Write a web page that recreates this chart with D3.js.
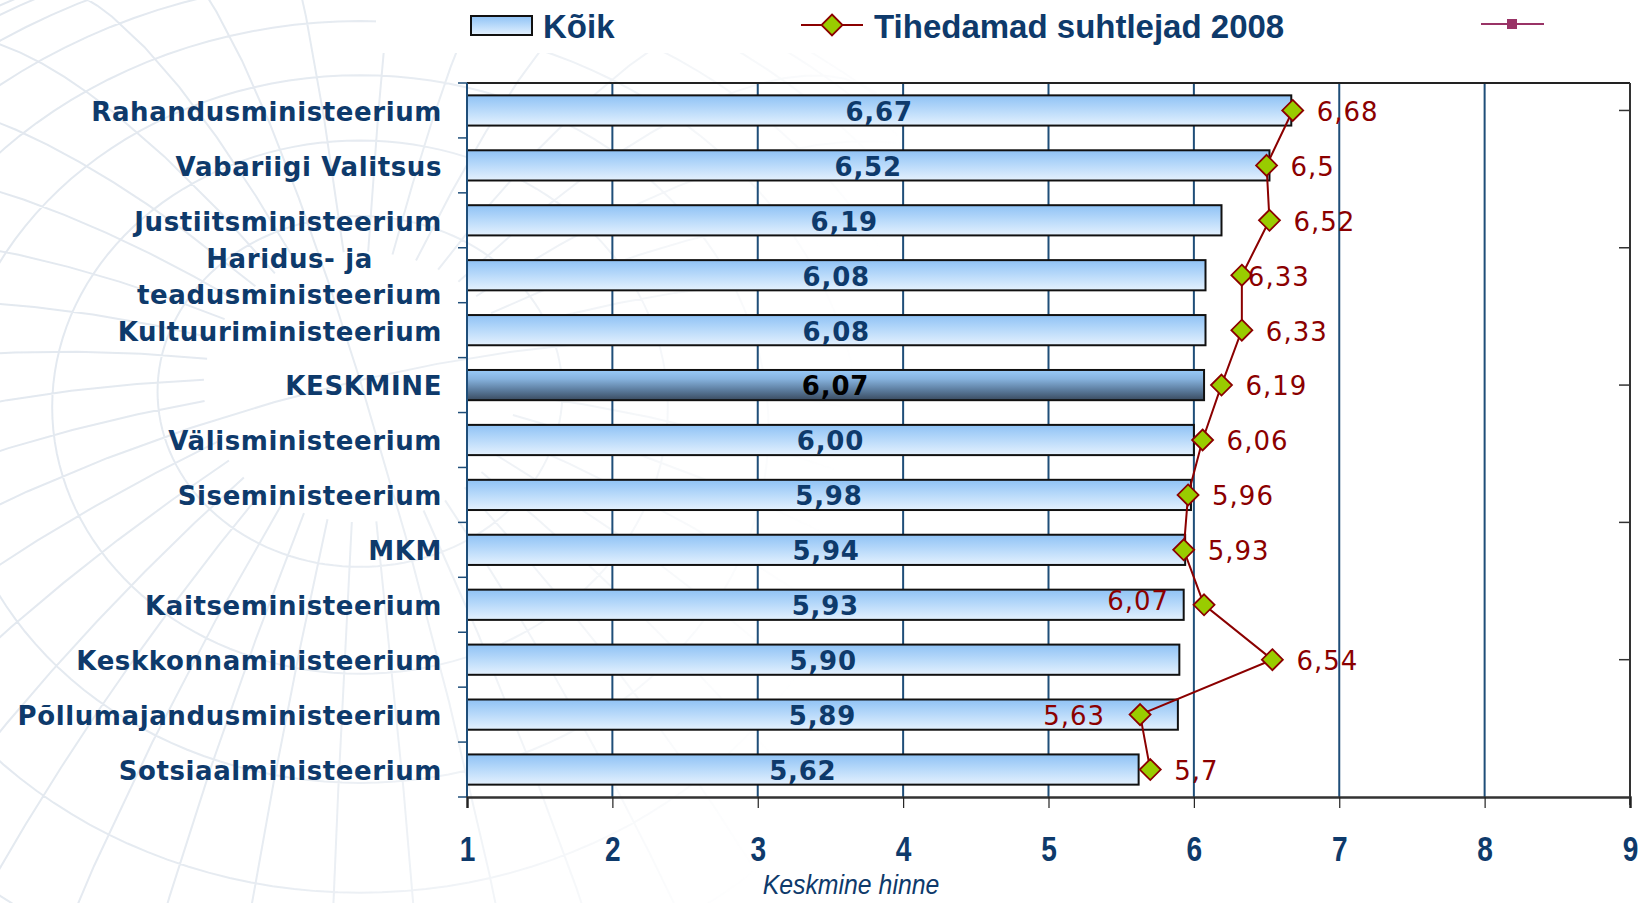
<!DOCTYPE html>
<html><head><meta charset="utf-8">
<script src="https://cdn.jsdelivr.net/npm/d3@7"></script>
<style>
html,body{margin:0;padding:0;background:#fff;}
svg{display:block;}
</style></head>
<body>
<svg id="chart" width="1641" height="903"></svg>
<script>
// ---- data ----
const categories = [
  "Rahandusministeerium","Vabariigi Valitsus","Justiitsministeerium",
  "Haridus- ja teadusministeerium","Kultuuriministeerium","KESKMINE",
  "Välisministeerium","Siseministeerium","MKM","Kaitseministeerium",
  "Keskkonnaministeerium","Põllumajandusministeerium","Sotsiaalministeerium"
];
const koik = [6.67, 6.52, 6.19, 6.08, 6.08, 6.07, 6.00, 5.98, 5.94, 5.93, 5.90, 5.89, 5.62];
const tihedamad = [6.68, 6.5, 6.52, 6.33, 6.33, 6.19, 6.06, 5.96, 5.93, 6.07, 6.54, 5.63, 5.7];
const lineLabelSide = ["right","right","right","tight","right","right","right","right","right","left","right","left","right"];
const xTicks = [1,2,3,4,5,6,7,8,9];
const secondaryTicks = [1,2,3,4,5];
const seriesNames = ["Kõik","Tihedamad suhtlejad 2008",""];
const highlight = "KESKMINE";
const xTitle = "Keskmine hinne";

// ---- layout ----
const W = 1641, H = 903;
const M = {left: 467, right: 1630, top: 83, bottom: 797};
const navy = "#0e3a6b", grid = "#1f4e79", red = "#8b0000", diamondFill = "#99cc00";

const svg = d3.select("#chart");
const defs = svg.append("defs");

function grad(id, stops){
  const g = defs.append("linearGradient").attr("id", id).attr("x1",0).attr("y1",0).attr("x2",0).attr("y2",1);
  stops.forEach(s => g.append("stop").attr("offset", s[0]).attr("stop-color", s[1]));
}
grad("barGrad", [[0,"#8fc2f5"],[0.5,"#b9dafa"],[1,"#e4f1fe"]]);
grad("hiGrad", [[0,"#98caf8"],[0.3,"#86b2dd"],[0.7,"#587798"],[1,"#3a4b60"]]);

// background globe pattern
const fade = defs.append("linearGradient").attr("id","fade").attr("x1",0).attr("y1",0).attr("x2",1).attr("y2",0.2);
fade.append("stop").attr("offset",0).attr("stop-color","#fff");
fade.append("stop").attr("offset",0.45).attr("stop-color","#fff").attr("stop-opacity",0.85);
fade.append("stop").attr("offset",1).attr("stop-color","#fff").attr("stop-opacity",0);
defs.append("mask").attr("id","bgMask").attr("maskContentUnits","userSpaceOnUse")
  .append("rect").attr("x",0).attr("y",0).attr("width",900).attr("height",H).attr("fill","url(#fade)");
const proj = d3.geoOrthographic().scale(900).translate([360, 830]).rotate([15, -60, 0]).clipAngle(90);
const gpath = d3.geoPath(proj);
svg.append("g").attr("mask","url(#bgMask)")
  .append("path").datum(d3.geoGraticule().stepMajor([90,360]).stepMinor([9,7]).extentMinor([[-180,-80],[180,80]])())
  .attr("d", gpath).attr("fill","none").attr("stroke","#e2e8ef").attr("stroke-width",2);
// white legend area
svg.append("rect").attr("x",376).attr("y",0).attr("width",W-376).attr("height",53).attr("fill","#fff");

// ---- scales ----
const x = d3.scaleLinear().domain([1,9]).range([M.left, M.right]);
const y = d3.scaleBand().domain(categories).range([M.top, M.bottom]).paddingInner(0.45).paddingOuter(0.225);
const y2 = d3.scaleLinear().domain([0,5.2]).range([M.bottom, M.top]);
const fmt2 = v => d3.format(".2f")(v).replace(".", ",");
const fmtN = v => String(v).replace(".", ",");

// gridlines
svg.append("g").selectAll("line").data(xTicks.slice(1,-1)).join("line")
  .attr("x1", d => x(d)).attr("x2", d => x(d)).attr("y1", M.top).attr("y2", M.bottom)
  .attr("stroke", grid).attr("stroke-width", 2);

// frame top/right
svg.append("line").attr("x1",M.left).attr("x2",M.right).attr("y1",M.top).attr("y2",M.top).attr("stroke","#222").attr("stroke-width",2);
svg.append("line").attr("x1",M.right).attr("x2",M.right).attr("y1",M.top).attr("y2",M.bottom+8).attr("stroke","#333").attr("stroke-width",2);

// bars
svg.append("g").selectAll("rect").data(categories).join("rect")
  .attr("x", x(1)).attr("y", d => y(d))
  .attr("width", (d,i) => x(koik[i]) - x(1)).attr("height", y.bandwidth())
  .attr("fill", d => d === highlight ? "url(#hiGrad)" : "url(#barGrad)")
  .attr("stroke", "#111").attr("stroke-width", 2);

// bar labels
svg.append("g").selectAll("text").data(categories).join("text")
  .attr("x", (d,i) => (x(1) + x(koik[i]))/2).attr("y", d => y(d) + y.bandwidth()/2 + 1)
  .attr("dy","0.36em").attr("text-anchor","middle")
  .attr("font-family","DejaVu Sans, Verdana, sans-serif").attr("font-weight","bold").attr("font-size",26)
  .attr("letter-spacing",0.8)
  .attr("fill", d => d === highlight ? "#000" : navy)
  .text((d,i) => fmt2(koik[i]));

// secondary series line
const pts = categories.map((c,i) => [x(tihedamad[i]), y(c) + y.bandwidth()/2]);
svg.append("path").attr("d", d3.line()(pts)).attr("fill","none").attr("stroke", red).attr("stroke-width",2);
const diamond = s => `M0,${-s}L${s},0L0,${s}L${-s},0Z`;
svg.append("g").selectAll("path").data(pts).join("path")
  .attr("transform", d => `translate(${d[0]},${d[1]})`).attr("d", diamond(10.5))
  .attr("fill", diamondFill).attr("stroke", red).attr("stroke-width",1.8);
svg.append("g").selectAll("text").data(pts).join("text")
  .attr("x", (d,i) => lineLabelSide[i] === "left" ? d[0] - 35 : d[0] + (lineLabelSide[i] === "tight" ? 6 : 24))
  .attr("y", (d,i) => d[1] + (lineLabelSide[i] === "left" && i < 10 ? -4 : 1))
  .attr("dy","0.36em").attr("text-anchor", (d,i) => lineLabelSide[i] === "left" ? "end" : "start")
  .attr("font-family","DejaVu Sans, Verdana, sans-serif").attr("font-size",26).attr("letter-spacing",1)
  .attr("fill", red)
  .text((d,i) => fmtN(tihedamad[i]));

// left axis
const ly = svg.append("g");
ly.append("line").attr("x1",M.left).attr("x2",M.left).attr("y1",M.top).attr("y2",M.bottom).attr("stroke",grid).attr("stroke-width",2);
const boundaries = d3.range(categories.length + 1).map(i => M.top + i * y.step());
ly.selectAll(".tk").data(boundaries).join("line").attr("class","tk")
  .attr("x1",M.left-9).attr("x2",M.left).attr("y1",d=>d).attr("y2",d=>d).attr("stroke",grid).attr("stroke-width",1.5);

// category labels with wrapping
const catG = svg.append("g").attr("font-family","DejaVu Sans, Verdana, sans-serif").attr("font-weight","bold")
  .attr("font-size",26).attr("fill",navy).attr("letter-spacing",0.6);
const labelRight = 442, maxW = 365;
categories.forEach(c => {
  const cy = y(c) + y.bandwidth()/2 + 1;
  const t = catG.append("text").attr("text-anchor","end");
  const words = c.split(" ");
  let lines = [], cur = [];
  words.forEach(w => {
    t.text([...cur, w].join(" "));
    if (cur.length && t.node().getComputedTextLength() > maxW) { lines.push(cur.join(" ")); cur = [w]; }
    else cur.push(w);
  });
  lines.push(cur.join(" "));
  t.text(null);
  if (lines.length === 1) {
    t.attr("x", labelRight).attr("y", cy).attr("dy","0.36em").text(lines[0]);
  } else {
    const widths = lines.map(l => { t.text(l); return t.node().getComputedTextLength(); });
    t.text(null).attr("text-anchor","middle");
    const cx = labelRight - d3.max(widths)/2, lh = 36;
    lines.forEach((l,k) => t.append("tspan").attr("x", cx)
      .attr("y", cy + (k - (lines.length-1)/2) * lh).attr("dy","0.36em").text(l));
  }
});

// right secondary axis ticks
svg.append("g").selectAll("line").data(secondaryTicks).join("line")
  .attr("x1", M.right - 11).attr("x2", M.right).attr("y1", d => y2(d)).attr("y2", d => y2(d))
  .attr("stroke","#333").attr("stroke-width",1.5);

// bottom axis
const xa = svg.append("g").attr("transform",`translate(0,${M.bottom})`)
  .call(d3.axisBottom(x).tickValues(xTicks).tickSize(11).tickFormat(d3.format("d")));
xa.select(".domain").attr("stroke","#333").attr("stroke-width",2.5);
xa.selectAll(".tick line").attr("stroke","#222").attr("stroke-width",1.2);
xa.selectAll(".tick text").attr("y", 51).attr("dy","0.36em").attr("transform","scale(0.78,1)")
  .attr("font-family","Liberation Sans, Arial, sans-serif").attr("font-weight","bold")
  .attr("font-size",36).attr("fill",navy);
svg.append("text").attr("x", 851).attr("y", 884).attr("dy","0.36em").attr("text-anchor","middle")
  .attr("transform","translate(851,0) scale(0.92,1) translate(-851,0)")
  .attr("font-family","Liberation Sans, Arial, sans-serif").attr("font-style","italic")
  .attr("font-size",27).attr("fill",navy).text(xTitle);

// legend
const lg = svg.append("g").attr("font-family","Liberation Sans, Arial, sans-serif")
  .attr("font-weight","bold").attr("font-size",33).attr("fill",navy);
lg.append("rect").attr("x",471).attr("y",16).attr("width",61).attr("height",19)
  .attr("fill","url(#barGrad)").attr("stroke","#111").attr("stroke-width",2);
lg.append("text").attr("x",543).attr("y",26).attr("dy","0.36em").text(seriesNames[0]);
lg.append("line").attr("x1",801).attr("x2",863).attr("y1",25).attr("y2",25).attr("stroke",red).attr("stroke-width",2);
lg.append("path").attr("transform","translate(832,25)").attr("d", diamond(10.5))
  .attr("fill",diamondFill).attr("stroke",red).attr("stroke-width",1.8);
lg.append("text").attr("x",874).attr("y",26).attr("dy","0.36em").text(seriesNames[1]);
lg.append("line").attr("x1",1481).attr("x2",1544).attr("y1",24).attr("y2",24).attr("stroke","#993366").attr("stroke-width",2);
lg.append("rect").attr("x",1507).attr("y",19).attr("width",10).attr("height",10).attr("fill","#993366");
lg.append("text").attr("x",1555).attr("y",26).attr("dy","0.36em").text(seriesNames[2]);
</script>
</body></html>
